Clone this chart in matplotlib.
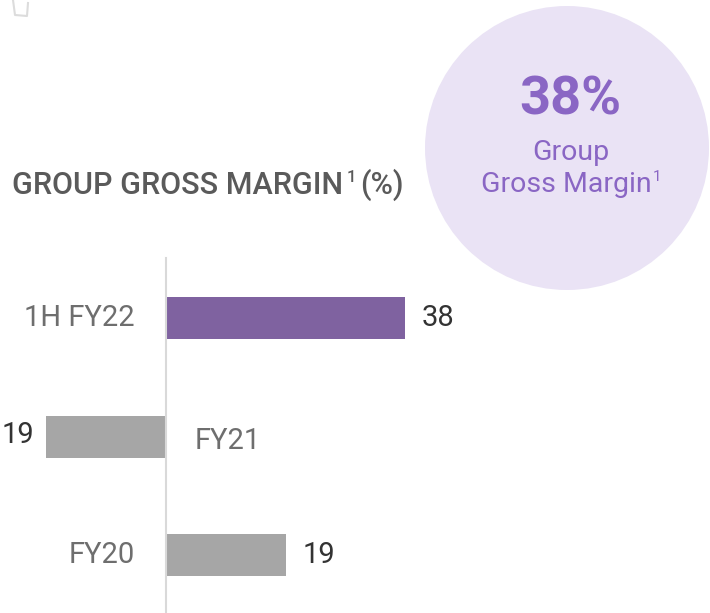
import matplotlib
matplotlib.use("Agg")
import matplotlib.pyplot as plt
from matplotlib.patches import Circle

plt.rcParams['font.family'] = ['Roboto', 'DejaVu Sans']

# data
categories = ['1H FY22', 'FY21', 'FY20']
values = [38, -19, 19]
value_labels = ['38', '19', '19']
bar_colors = ['#7f62a0', '#a6a6a6', '#a6a6a6']

fig = plt.figure(figsize=(7.10, 6.13), dpi=100)

# background layer in pixel coordinates for the bubble + title
bg = fig.add_axes([0, 0, 1, 1])
bg.set_xlim(0, 710)
bg.set_ylim(613, 0)
bg.axis('off')
bg.plot([13, 15, 27, 28], [0, 15, 16, 3], color='#dcdcdc', lw=1.5)  # bit of icon at top-left
bg.add_patch(Circle((567, 148), 142, facecolor='#eae3f5', edgecolor='none'))
bg.text(570, 100, '38%', color='#8a66c4', fontsize=39, fontweight='bold',
        ha='center', va='center')
bg.text(571, 152, 'Group', color='#8a66c4', fontsize=20.5, ha='center', va='center')
bg.text(566, 185, 'Gross Margin', color='#8a66c4', fontsize=20.5,
        ha='center', va='center')
bg.text(653, 177, '1', color='#8a66c4', fontsize=11, ha='left', va='center')

bg.text(12, 185, 'GROUP GROSS MARGIN', color='#5a5a5a', fontsize=22,
        fontweight='medium', ha='left', va='center')
bg.text(347, 177, '1', color='#5a5a5a', fontsize=12, fontweight='medium',
        ha='left', va='center')
bg.text(360, 185, '(%)', color='#5a5a5a', fontsize=22, fontweight='medium',
        ha='left', va='center')

# bar chart
ax = fig.add_axes([0, 0, 1, 1], facecolor='none')
px_x = 6.29     # pixels per unit
px_y = 118.5    # pixels per category step
ax.set_xlim(-166 / px_x, (710 - 166) / px_x)
ax.set_ylim((613 - 318) / px_y, -318 / px_y)
ax.axis('off')

pos = list(range(len(categories)))
ax.barh(pos, values, height=42 / px_y, color=bar_colors)
ax.plot([0, 0], [(258 - 318) / px_y, (613 - 318) / px_y], color='#d9d9d9', lw=1.5)

for i, (cat, v, lab) in enumerate(zip(categories, values, value_labels)):
    if v >= 0:
        ax.text(-31 / px_x, i, cat, ha='right', va='center', fontsize=21, color='#6e6e6e')
        ax.text(v + 17 / px_x, i, lab, ha='left', va='center', fontsize=21, color='#333333')
    else:
        ax.text(29 / px_x, i + 4 / px_y, cat, ha='left', va='center', fontsize=21, color='#6e6e6e')
        ax.text(v - 12 / px_x, i - 2 / px_y, lab, ha='right', va='center', fontsize=21, color='#333333')

fig.savefig('out.png', dpi=100)
